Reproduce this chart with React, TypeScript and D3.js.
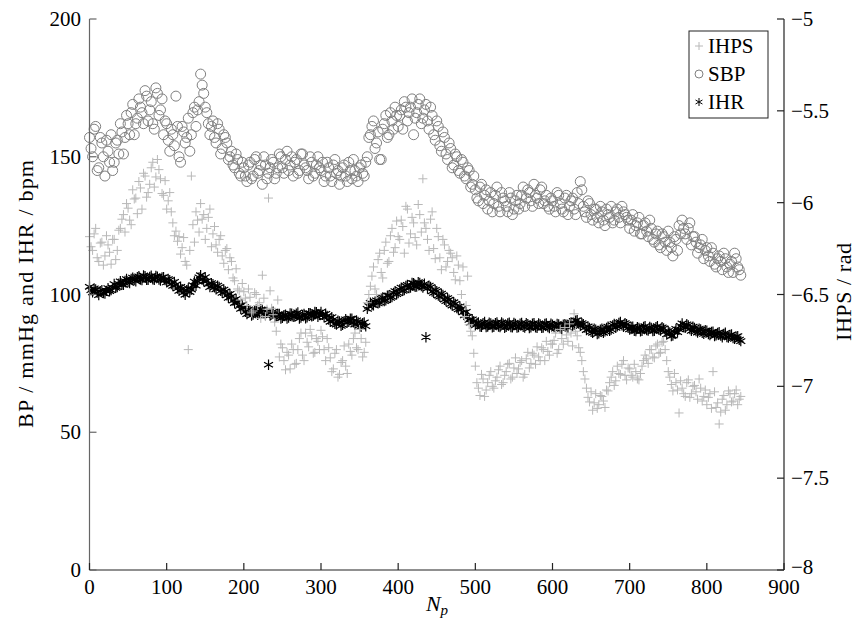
import React from 'react';
import * as d3 from 'd3';

// ---------- data ----------
// "A" arrays: pulses N = 0, 4, 8, ...   "B" arrays: pulses N = 2, 6, 10, ...
const STEP = 4;
const OFFSET_A = 0;
const OFFSET_B = 2;

// SBP / mmHg (left axis)
const sbpA = [
  157,150,161,146,155,143,152,158,148,156,162,151,165,158,169,162,171,166,174,163,170,160,173,167,158,
  162,152,158,172,150,161,155,164,158,168,167,180,173,166,158,163,155,160,153,157,149,152,146,149,143,
  146,141,148,143,150,145,140,147,144,149,142,146,150,144,152,147,143,149,145,151,146,142,148,144,150,
  145,141,148,143,147,144,140,146,143,148,142,145,141,147,143,150,158,163,155,149,160,165,158,163,168,
  161,167,170,163,168,158,166,171,164,169,160,165,156,161,152,157,149,153,147,150,144,148,142,145,140,
  138,134,140,136,131,137,133,139,130,135,132,137,129,134,131,136,132,138,134,140,135,138,133,136,131,
  134,130,136,131,135,129,134,131,137,141,132,128,133,127,131,126,130,125,129,132,127,131,126,130,128,
  124,129,125,128,122,126,121,124,119,123,117,121,116,119,114,120,125,127,122,124,118,121,115,118,113,
  117,112,115,110,114,109,113,108,112,115,110,107,
];
const sbpB = [
  153,160,145,157,150,156,148,145,155,151,159,157,162,166,158,164,168,162,172,167,162,175,165,171,163,
  156,160,154,161,148,159,157,152,166,161,170,176,168,162,161,157,162,151,158,155,150,147,151,144,148,
  143,147,142,149,144,147,150,142,146,148,144,151,146,149,145,150,148,144,151,147,145,150,143,147,146,
  148,143,146,141,149,145,143,147,141,145,149,143,146,144,148,157,161,153,159,149,162,157,166,160,165,
  165,160,168,166,171,164,169,162,167,163,168,158,163,154,159,151,155,146,151,145,149,143,146,139,143,
  135,139,133,138,134,130,136,132,137,134,130,135,131,136,133,139,135,137,132,136,133,139,134,132,135,
  132,137,133,130,136,132,135,129,133,138,130,134,129,131,128,132,127,131,128,126,130,128,132,129,127,
  127,123,126,122,125,123,127,120,122,118,122,119,123,117,121,116,122,124,120,126,121,119,117,120,116,
  114,117,111,113,112,115,110,111,108,113,109,
];

// IHR / bpm (left axis)
const ihrA = [
  102.8,100.8,101.8,99.8,101.6,100.3,102.3,101.6,103.8,102.7,104.8,103.5,105.6,104.2,106.1,104.8,106.6,105.2,106.6,105.3,106.8,105.3,106.5,105.1,106.3,
  104.4,105.2,103.1,103.6,101.3,101.9,99.9,102.2,101.8,104.7,104.8,107,104.8,104.9,102.7,103.7,101.9,102.7,100.6,101.1,98.8,99.3,96.9,97.2,94.8,
  95.2,92.9,93.9,92.7,94.5,93.3,94.4,92.5,74.5,93.5,91.8,92.9,91.3,92.5,91.3,93.1,91.9,93,91.3,92.5,91.4,93.2,92.1,93.7,91.9,
  93.7,91.7,92.2,90.1,90.9,89.1,90.2,89,91,90.1,91.2,89.1,90,88.3,89.9,94.8,97,96.1,97.9,97.1,98.9,97.9,99.7,99.1,101.2,
  100.5,102.5,101.6,103.5,102.5,104.1,102.9,104.2,102.5,84.5,103.2,101.1,101.7,99.6,100.3,98.1,98.7,96.5,97.2,95.1,95.7,93.5,93.7,90.8,91,
  88.8,89.9,88.3,90,88.4,89.5,88.3,89.9,88.2,89.4,88.3,89.8,88.1,89.3,88.2,89.7,88,89.2,88.1,89.6,87.9,89.1,88,89.5,87.8,
  89,87.6,89.1,87.5,89.2,88,89.9,89.1,90.7,88.6,89.2,87.1,87.9,86.1,87.2,85.9,87.6,86.6,88.3,87.3,89.3,88.5,90,88.3,89.2,
  87.3,88.3,86.7,87.9,86.8,88.5,86.9,87.9,86.8,88.5,86.9,87.7,85.5,86.2,85.1,87.5,87.3,89.5,87.9,88.8,86.8,87.9,86.2,87.3,85.7,
  86.9,85.3,86.5,85.2,86.3,84.5,86.1,84.4,85.5,83.9,84.9,83.1,
];
const ihrB = [
  101.6,102.2,100.7,101.2,100.5,101.3,101.2,102.5,102.4,103.9,103.6,104.9,104.5,105.6,105.2,106.3,105.4,106.9,105.3,106.4,105.5,106.7,105.4,106.2,105.2,
  105.6,103.8,104.6,102.2,102.8,100.8,101.6,100.9,103.4,103.2,106.2,105.4,106.3,103.8,104.1,102.6,103.2,101.3,101.8,99.7,100.2,97.8,98.4,95.8,96.3,
  93.7,94.6,92.4,94.2,92.6,94.6,93,93.7,92.4,93.8,92.2,92.9,91.5,92.7,91.6,93,92,93.5,91.6,92.9,91.7,93.2,92.3,93.6,92.6,
  92.6,93,90.9,91.8,89.4,90.5,88.6,90.3,89.8,91.2,89.9,90.6,88.8,89.6,88.5,95.8,96.2,97.4,96.8,98.5,97.6,99.6,98.8,100.6,100.1,
  101.8,101.3,103.1,102.3,104.2,102.8,104.5,103.1,103.9,102.2,102.7,100.6,101.2,99.2,99.8,97.6,98.1,96,96.6,94.6,94.8,92.4,91.9,89.8,90.3,
  89.5,88.4,89.6,88.2,89.8,88.1,89.6,88.4,89.9,87.9,89.5,88.2,89.7,88,89.4,88.3,89.6,87.8,89.4,88.1,89.5,87.9,89.3,88.2,89.4,
  88.2,89.3,87.8,89,88.3,89.6,88.6,90.5,89.5,89.6,88,88.4,86.5,87.6,85.6,87.2,86.1,87.9,86.8,88.8,87.9,89.7,88.8,89.6,87.9,
  88.2,86.8,88.1,86.6,88.2,87.1,88.2,86.7,88.1,87.2,88.1,86.5,86.8,84.9,86.4,86.3,88.6,88.2,89.2,87.5,88.3,86.7,87.6,86.1,87,
  85.6,86.4,84.9,86,85.1,85.7,84.6,85.3,84.2,84.7,83.6,
];

// IHPS / rad (right axis)
const ihpsA = [
  -6.185,-6.26,-6.14,-6.32,-6.215,-6.29,-6.23,-6.335,-6.2,-6.26,-6.14,-6.065,-6.005,-6.095,-5.93,-5.975,-5.885,-6.035,-5.855,-5.945,-5.81,-5.915,-5.765,-5.87,-5.96,
  -6.035,-5.945,-6.11,-6.155,-6.185,-6.245,-6.32,-6.8,-5.855,-6.215,-6.095,-6.005,-6.065,-6.14,-6.035,-6.17,-6.23,-6.2,-6.29,-6.26,-6.365,-6.32,-6.425,-6.47,-6.53,
  -6.485,-6.56,-6.515,-6.59,-6.5,-6.545,-6.395,-6.62,-5.975,-6.575,-6.65,-6.53,-6.77,-6.86,-6.815,-6.905,-6.8,-6.875,-6.74,-6.83,-6.71,-6.785,-6.725,-6.815,-6.755,
  -6.695,-6.8,-6.74,-6.845,-6.905,-6.8,-6.935,-6.86,-6.89,-6.77,-6.83,-6.71,-6.8,-6.74,-6.815,-6.545,-6.455,-6.35,-6.5,-6.275,-6.41,-6.215,-6.32,-6.14,-6.245,
  -6.185,-6.095,-6.275,-6.035,-6.17,-6.11,-6.23,-6.065,-5.87,-6.14,-6.26,-6.05,-6.305,-6.185,-6.365,-6.23,-6.32,-6.275,-6.38,-6.29,-6.425,-6.35,-6.56,-6.665,-6.725,
  -6.89,-7.01,-6.935,-7.055,-6.98,-6.92,-7.01,-6.95,-6.89,-6.98,-6.92,-6.875,-6.95,-6.845,-6.905,-6.86,-6.935,-6.815,-6.875,-6.83,-6.785,-6.86,-6.8,-6.755,-6.83,
  -6.77,-6.71,-6.8,-6.74,-6.68,-6.755,-6.71,-6.605,-6.725,-6.815,-6.92,-7.01,-7.085,-7.13,-7.04,-7.1,-7.055,-7.115,-7.025,-6.95,-6.995,-6.89,-6.935,-6.86,-6.965,
  -6.905,-6.95,-6.92,-6.965,-6.89,-6.83,-6.875,-6.8,-6.845,-6.77,-6.815,-6.755,-6.86,-6.95,-7.025,-6.98,-7.145,-7.01,-7.055,-6.965,-7.04,-6.995,-7.07,-7.01,-7.055,
  -7.1,-7.04,-6.92,-7.115,-7.205,-7.07,-7.13,-7.025,-7.085,-7.04,-7.1,-7.055,
];
const ihpsB = [
  -6.24,-6.17,-6.3,-6.22,-6.34,-6.18,-6.27,-6.2,-6.31,-6.15,-6.09,-6.16,-6.03,-6.12,-5.98,-6.06,-5.92,-5.84,-5.97,-5.9,-5.78,-5.86,-5.82,-5.95,-5.88,
  -5.99,-6.05,-6.18,-6.21,-6.28,-6.19,-6.34,-6.26,-6.12,-6.05,-6.16,-6.09,-6.2,-6.08,-6.24,-6.13,-6.27,-6.18,-6.33,-6.25,-6.3,-6.41,-6.36,-6.48,-6.44,
  -6.52,-6.47,-6.6,-6.49,-6.56,-6.63,-6.52,-6.58,-6.48,-6.61,-6.7,-6.84,-6.79,-6.91,-6.83,-6.77,-6.88,-6.8,-6.71,-6.86,-6.76,-6.69,-6.82,-6.74,-6.8,
  -6.73,-6.86,-6.79,-6.92,-6.82,-6.95,-6.87,-6.78,-6.93,-6.81,-6.74,-6.79,-6.69,-6.84,-6.76,-6.5,-6.4,-6.47,-6.31,-6.38,-6.26,-6.33,-6.18,-6.27,-6.1,
  -6.2,-6.13,-6.02,-6.22,-6.08,-6.19,-6.01,-6.16,-6.11,-6.2,-6.09,-6.25,-6.14,-6.3,-6.2,-6.35,-6.26,-6.3,-6.42,-6.34,-6.5,-6.62,-6.4,-6.7,-6.82,
  -6.98,-7.05,-6.96,-7.02,-6.94,-7.0,-6.97,-6.91,-6.99,-6.94,-6.88,-6.96,-6.9,-6.93,-6.87,-6.95,-6.85,-6.9,-6.82,-6.88,-6.84,-6.79,-6.86,-6.81,-6.77,
  -6.75,-6.82,-6.69,-6.77,-6.72,-6.66,-6.78,-6.7,-6.79,-6.86,-6.96,-7.06,-7.03,-7.09,-7.12,-7.05,-7.08,-7.02,-6.98,-6.92,-6.97,-6.93,-6.88,-6.94,-6.9,
  -6.94,-6.88,-6.96,-6.93,-6.86,-6.85,-6.8,-6.84,-6.78,-6.82,-6.76,-6.8,-6.92,-6.99,-6.93,-7.02,-6.97,-7.04,-6.98,-7.06,-7.0,-7.03,-6.96,-7.08,-7.02,
  -7.06,-7.12,-7.03,-7.09,-7.14,-7.05,-7.1,-7.04,-7.08,-7.02,-7.07,
];

const xTicks = [0, 100, 200, 300, 400, 500, 600, 700, 800, 900];
const leftTicks = [0, 50, 100, 150, 200];
const rightTicks = [-5, -5.5, -6, -6.5, -7, -7.5, -8];
const legendItems = ['IHPS', 'SBP', 'IHR'];

// ---------- layout ----------
const W = 866, H = 631;
const FONT = "Liberation Serif";
const FS = 21;
const C_IHPS = '#b8b8b8';
const C_SBP = '#808080';
const C_IHR = '#000';

const x = d3.scaleLinear().domain([0, 900]).range([89.5, 784]);
const yL = d3.scaleLinear().domain([0, 200]).range([570, 19]);
const yR = d3.scaleLinear().domain([-8, -5]).range([570, 19]);

const plus = (cx: number, cy: number, s = 4.5) => `M${cx - s},${cy}H${cx + s}M${cx},${cy - s}V${cy + s}`;
const aster = (cx: number, cy: number, s = 5.2) => {
  let p = '';
  for (const a of [90, 30, -30]) {
    const r = (a * Math.PI) / 180;
    const dx = s * Math.cos(r), dy = s * Math.sin(r);
    p += `M${cx - dx},${cy - dy}L${cx + dx},${cy + dy}`;
  }
  return p;
};
const fmt = (v: number) => (v < 0 ? '\u2212' + String(-v) : String(v));

const merge = (a: number[], b: number[]) => [
  ...a.map((v, i) => ({ n: OFFSET_A + i * STEP, v })),
  ...b.map((v, i) => ({ n: OFFSET_B + i * STEP, v })),
].sort((p, q) => p.n - q.n);

const T = (props: any) => <text {...props} style={{ fontFamily: FONT }} />;

export default function App() {
  const sbp = merge(sbpA, sbpB);
  const ihr = merge(ihrA, ihrB);
  const ihps = merge(ihpsA, ihpsB);
  const ihrPath = ihr.map(d => aster(x(d.n), yL(d.v))).join('');
  const ihpsPath = ihps.map(d => plus(x(d.n), yR(d.v))).join('');

  const lgX = 689, lgY = 31, lgW = 79, lgH = 87;

  return (
    <svg width={W} height={H} style={{ position: 'absolute', left: 0, top: 0, background: '#fff' }}
      fontSize={FS}>
      <rect width={W} height={H} fill="#fff" />
      {/* SBP */}
      <g fill="none" stroke={C_SBP} strokeWidth={1}>
        {sbp.map((d, i) => <circle key={i} cx={x(d.n)} cy={yL(d.v)} r={5} />)}
      </g>
      {/* IHR */}
      <path d={ihrPath} fill="none" stroke={C_IHR} strokeWidth={1.2} />
      {/* IHPS */}
      <path d={ihpsPath} fill="none" stroke={C_IHPS} strokeWidth={1} />

      {/* axes */}
      <g stroke="#222" strokeWidth={1.2} fill="none">
        <line x1={x(0)} x2={x(0)} y1={yL(0)} y2={yL(200)} stroke="#666" />
        <line x1={x(0)} x2={x(900)} y1={yL(0)} y2={yL(0)} />
        <line x1={x(900)} x2={x(900)} y1={yR(-8)} y2={yR(-5)} />
        {leftTicks.map(t => <line key={t} x1={x(0)} x2={x(0) + 7} y1={yL(t)} y2={yL(t)} stroke="#666" />)}
        {xTicks.map(t => <line key={t} x1={x(t)} x2={x(t)} y1={yL(0)} y2={yL(0) - 7} />)}
        {rightTicks.map(t => <line key={t} x1={x(900)} x2={x(900) - 7} y1={yR(t)} y2={yR(t)} />)}
      </g>
      <g fill="#000">
        {leftTicks.map(t => <T key={t} x={81} y={yL(t) + 7} textAnchor="end">{fmt(t)}</T>)}
        {xTicks.map(t => <T key={t} x={x(t)} y={594} textAnchor="middle">{fmt(t)}</T>)}
        {rightTicks.map(t => <T key={t} x={791} y={yR(t) + (t === -8 ? 4 : 7)}>{fmt(t)}</T>)}
        <T transform="translate(33,294) rotate(-90)" textAnchor="middle" fontSize={22}
          textLength={268} lengthAdjust="spacing">BP / mmHg and IHR / bpm</T>
        <T transform="translate(851,292) rotate(-90)" textAnchor="middle" fontSize={22}
          textLength={98} lengthAdjust="spacing">IHPS / rad</T>
        <T x={437} y={611} textAnchor="middle" fontStyle="italic" fontSize={22}>N<tspan fontSize={15} dy={4}>p</tspan></T>
      </g>

      {/* legend */}
      <rect x={lgX} y={lgY} width={lgW} height={lgH} fill="#fff" stroke="#222" strokeWidth={1} />
      {legendItems.map((name, i) => {
        const cy = lgY + 15 + i * 28;
        const mx = lgX + 10;
        return (
          <g key={name}>
            {name === 'IHPS' && <path d={plus(mx, cy, 4)} stroke={C_IHPS} fill="none" />}
            {name === 'SBP' && <circle cx={mx} cy={cy} r={4} stroke={C_SBP} fill="none" />}
            {name === 'IHR' && <path d={aster(mx, cy, 4)} stroke={C_IHR} fill="none" />}
            <T x={mx + 9} y={cy + 7}>{name}</T>
          </g>
        );
      })}
    </svg>
  );
}
